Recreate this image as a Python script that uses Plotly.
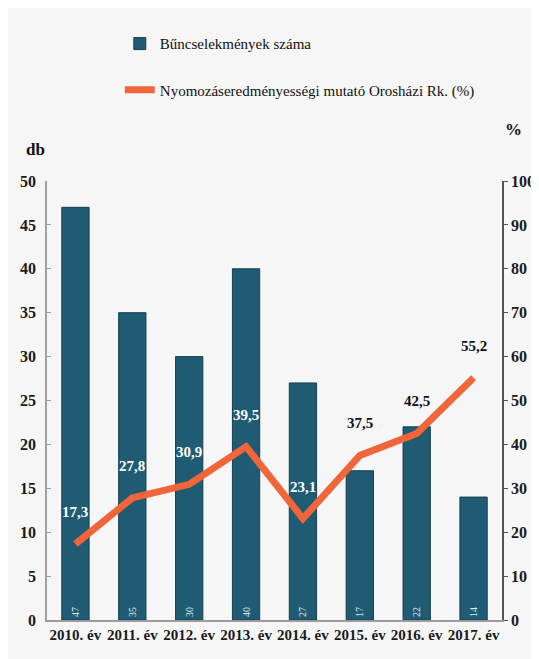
import plotly.graph_objects as go

years = ["2010. év", "2011. év", "2012. év", "2013. év", "2014. év", "2015. év", "2016. év", "2017. év"]
crimes = [47, 35, 30, 40, 27, 17, 22, 14]
rate = [17.3, 27.8, 30.9, 39.5, 23.1, 37.5, 42.5, 55.2]
rate_labels = ["17,3", "27,8", "30,9", "39,5", "23,1", "37,5", "42,5", "55,2"]
label_colors = ["white", "white", "white", "white", "white", "#111111", "#111111", "#111111"]

FONT = "Times New Roman"
BAR = "#1f5b72"
LINE = "#f0653a"

fig = go.Figure()
fig.add_trace(go.Bar(
    x=years, y=crimes, name="Bűncselekmények száma",
    marker=dict(color=BAR, line=dict(color="#173f50", width=1)),
    width=0.48,
    text=[str(v) for v in crimes], textposition="inside", insidetextanchor="start",
    textangle=-90, textfont=dict(color="#dfeef3", size=10, family=FONT),
    legend="legend",
))
fig.add_trace(go.Scatter(
    x=years, y=rate, name="Nyomozáseredményességi mutató Orosházi Rk. (%)",
    mode="lines", line=dict(color=LINE, width=7), yaxis="y2",
    legend="legend2",
))

for x, y, t, c in zip(years, rate, rate_labels, label_colors):
    fig.add_annotation(x=x, y=y, yref="y2", text=f"<b>{t}</b>", showarrow=False,
                       yshift=32, font=dict(family=FONT, size=15, color=c))

fig.add_annotation(x=-0.025, y=1.045, xref="paper", yref="paper", text="<b>db</b>", showarrow=False,
                   xanchor="center", yanchor="bottom",
                   font=dict(family=FONT, size=17, color="#111"))
fig.add_annotation(x=1.0, y=1.09, xref="paper", yref="paper", text="<b>%</b>", showarrow=False,
                   xanchor="left", yanchor="bottom", xshift=1,
                   font=dict(family=FONT, size=17, color="#111"))

axis_font = dict(family=FONT, size=16, color="#1a1a1a")
legend_font = dict(family=FONT, size=15, color="#111")
fig.update_layout(
    width=539, height=659,
    margin=dict(l=37, r=26, t=173, b=47),
    paper_bgcolor="#f6f6f6", plot_bgcolor="#f6f6f6",
    font=dict(family=FONT, color="#111"),
    xaxis=dict(tickfont=dict(family=FONT, size=15, color="#1a1a1a"), showline=True,
               linecolor="#9a9a9a", linewidth=1.5, ticks="", showgrid=False,
               tickprefix="<b>", ticksuffix="</b>"),
    yaxis=dict(range=[0, 50], dtick=5, showgrid=False, zeroline=False, showline=True,
               linecolor="#a0a0a0", linewidth=1.5, ticks="inside", ticklen=4, tickcolor="#a0a0a0",
               tickfont=axis_font, tickprefix="<b>", ticksuffix="</b>", ticklabelstandoff=6),
    yaxis2=dict(range=[0, 100], dtick=10, overlaying="y", side="right", showgrid=False,
                zeroline=False, showline=True, linecolor="#555555", linewidth=1.5,
                ticks="outside", ticklen=4, tickcolor="#555555",
                tickfont=axis_font, tickprefix="<b>", ticksuffix="</b>"),
    legend=dict(x=0.16, y=1.35, xanchor="left", yanchor="top", bgcolor="rgba(0,0,0,0)",
                font=legend_font, itemwidth=30),
    legend2=dict(x=0.16, y=1.245, xanchor="left", yanchor="top", bgcolor="rgba(0,0,0,0)",
                 font=legend_font, itemwidth=30),
    showlegend=True,
)

fig.write_html("out.html")
